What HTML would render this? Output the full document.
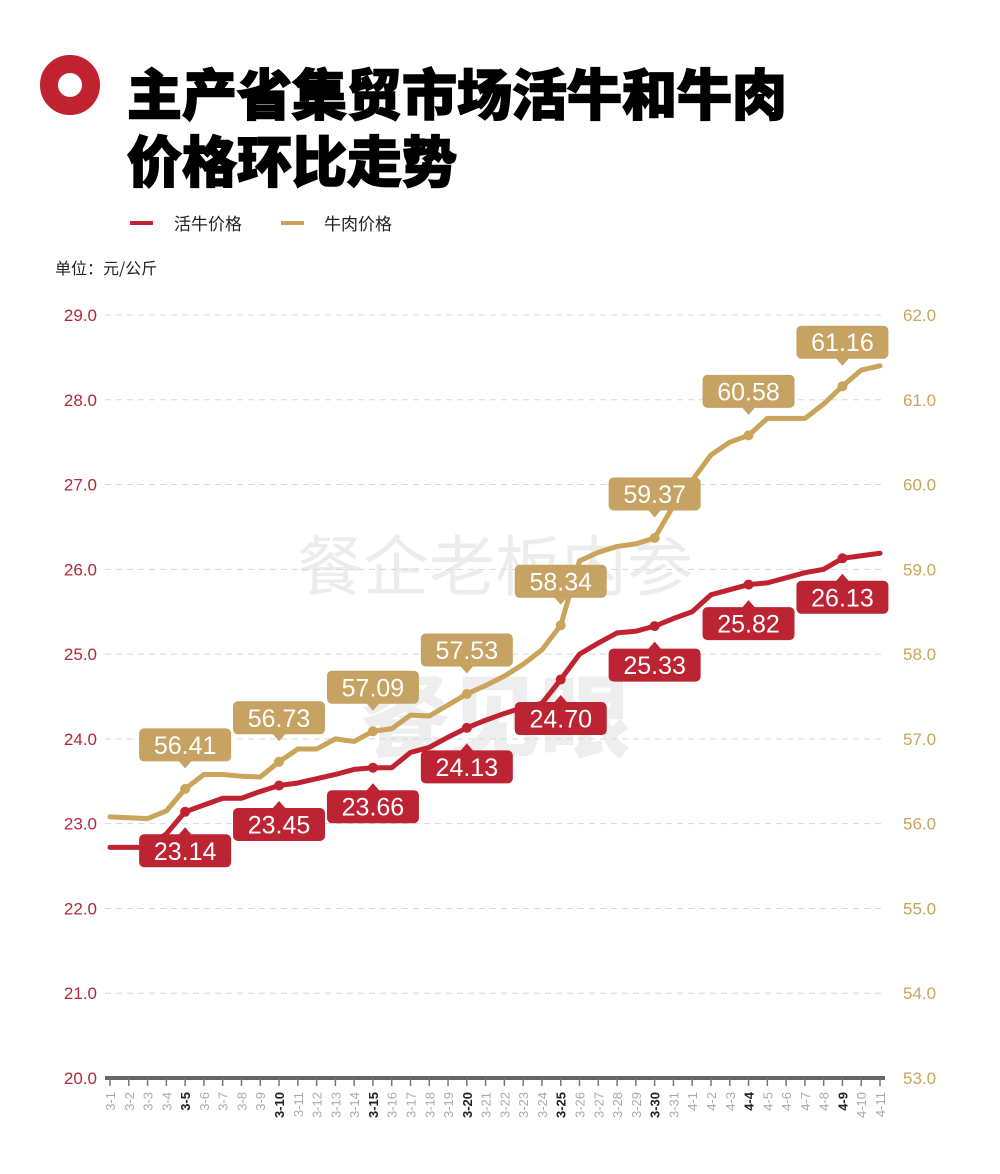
<!DOCTYPE html>
<html><head><meta charset="utf-8">
<style>
html,body{margin:0;padding:0;background:#fff;}
body{width:1000px;height:1174px;position:relative;overflow:hidden;font-family:"Liberation Sans","Noto Sans CJK SC",sans-serif;}
svg{position:absolute;left:0;top:0;}
</style></head>
<body>
<svg id="chart" width="1000" height="1174">
  <circle cx="70" cy="85" r="21" fill="none" stroke="#c0222f" stroke-width="18"/>
  <text x="127" y="115" font-size="55" font-weight="900" fill="#000" font-family="'Noto Sans CJK SC',sans-serif" stroke="#000" stroke-width="1.5">主产省集贸市场活牛和牛肉</text>
  <text x="127" y="182" font-size="55" font-weight="900" fill="#000" font-family="'Noto Sans CJK SC',sans-serif" stroke="#000" stroke-width="1.5">价格环比走势</text>
  <g>
    <rect x="130" y="221" width="23" height="4" fill="#c0222f"/>
    <text x="174" y="230" font-size="17" fill="#222" font-family="'Noto Sans CJK SC',sans-serif">活牛价格</text>
  </g>
  <g>
    <rect x="281" y="221" width="23" height="4" fill="#c9a45a"/>
    <text x="324" y="230" font-size="17" fill="#222" font-family="'Noto Sans CJK SC',sans-serif">牛肉价格</text>
  </g>
  <text x="55" y="274" font-size="16" fill="#222" font-family="'Noto Sans CJK SC',sans-serif">单位：元/公斤</text>
  <text x="495" y="590" font-size="66" fill="#ececec" text-anchor="middle" font-family="'Noto Sans CJK SC',sans-serif">餐企老板内参</text>
  <text x="495" y="750" font-size="90" font-weight="900" fill="#eeeeee" text-anchor="middle" font-family="'Noto Sans CJK SC',sans-serif">餐见眼</text>
  <g id="grid"></g><g id="axes"></g><g id="lines"></g><g id="labels"></g>
</svg>
<script>
const categories = [];
for (let d = 1; d <= 31; d++) categories.push('3-' + d);
for (let d = 1; d <= 11; d++) categories.push('4-' + d);
const cattleValues = [22.72,22.72,22.72,22.88,23.14,23.22,23.30,23.30,23.38,23.45,23.48,23.53,23.58,23.64,23.66,23.66,23.84,23.90,24.02,24.13,24.22,24.30,24.37,24.42,24.70,25.00,25.13,25.25,25.27,25.33,25.42,25.50,25.70,25.76,25.82,25.84,25.90,25.96,26.00,26.13,26.16,26.19];
const beefValues = [56.08,56.07,56.06,56.15,56.41,56.58,56.58,56.56,56.55,56.73,56.88,56.88,57.00,56.97,57.09,57.12,57.28,57.27,57.40,57.53,57.63,57.74,57.88,58.05,58.34,59.10,59.20,59.27,59.30,59.37,59.75,60.05,60.35,60.50,60.58,60.78,60.78,60.78,60.95,61.16,61.35,61.40];
const leftTicks = [20,21,22,23,24,25,26,27,28,29];
const rightTicks = [53,54,55,56,57,58,59,60,61,62];
const labeledIdx = [4,9,14,19,24,29,34,39];

const NS='http://www.w3.org/2000/svg';
const X0=110,X1=880,Y0=1078,Y1=315;
const x=i=>X0+(X1-X0)*i/(categories.length-1);
const yL=v=>Y0-(v-20)/9*(Y0-Y1);
const yR=v=>Y0-(v-53)/9*(Y0-Y1);
function mk(tag,attrs,parent,text){const e=document.createElementNS(NS,tag);for(const k in attrs)e.setAttribute(k,attrs[k]);if(text!==undefined)e.textContent=text;parent.appendChild(e);return e;}
const grid=document.getElementById('grid'),axes=document.getElementById('axes'),lines=document.getElementById('lines'),labels=document.getElementById('labels');

leftTicks.forEach((t,i)=>{
  const y=yL(t);
  if(i>0){const g=mk('line',{x1:105,x2:885,y1:y,y2:y,stroke:'#d8d8d8','stroke-dasharray':'6,5','stroke-width':1},grid);
  
  }
  const tl=mk('text',{x:97,y:y+6,'font-size':17,fill:'#b3283a','text-anchor':'end'},axes,t.toFixed(1));
  
  
});
rightTicks.forEach(t=>{
  const tr=mk('text',{x:903,y:yR(t)+6,'font-size':17,fill:'#c9a45a'},axes,t.toFixed(1));
  
  
});
const ax=mk('line',{x1:105,x2:885,y1:Y0,y2:Y0,stroke:'#666','stroke-width':4},axes);


categories.forEach((c,i)=>{
  mk('line',{x1:x(i),x2:x(i),y1:Y0,y2:Y0+8,stroke:'#777','stroke-width':1.5},axes);
  const bold=labeledIdx.includes(i);
  const tx=mk('text',{transform:`translate(${x(i)+5},${Y0+14}) rotate(-90)`,'font-size':13,'text-anchor':'end',fill:bold?'#222':'#aaa','font-weight':bold?'bold':'normal'},axes,c);
  
  
});

function series(vals,yf,color,name){
  const p=mk('polyline',{points:vals.map((v,i)=>x(i)+','+yf(v)).join(' '),fill:'none',stroke:color,'stroke-width':5,'stroke-linejoin':'round','stroke-linecap':'round'},lines);
  
  
  labeledIdx.forEach(i=>{mk('circle',{cx:x(i),cy:yf(vals[i]),r:5,fill:color},lines);});
}
series(beefValues,yR,'#c9a45a','beef-price-line');
series(cattleValues,yL,'#c0222f','live-cattle-price-line');

function label(i,v,yp,above,color,name){
  const cx=x(i),w=92,h=33;
  const cy=above?yp-44:yp+39;
  const g=mk('g',{},labels);
  
  
  mk('rect',{x:cx-w/2,y:cy-h/2,width:w,height:h,rx:5,fill:color},g);
  if(above) mk('polygon',{points:`${cx-7},${cy+h/2-1} ${cx+7},${cy+h/2-1} ${cx},${cy+h/2+7}`,fill:color},g);
  else mk('polygon',{points:`${cx-7},${cy-h/2+1} ${cx+7},${cy-h/2+1} ${cx},${cy-h/2-7}`,fill:color},g);
  mk('text',{x:cx,y:cy+9,'font-size':25,fill:'#fff','text-anchor':'middle'},g,v.toFixed(2));
}
labeledIdx.forEach(i=>{
  label(i,beefValues[i],yR(beefValues[i]),true,'#c6a263','beef-value-label');
  label(i,cattleValues[i],yL(cattleValues[i]),false,'#bd2433','cattle-value-label');
});
</script>
</body></html>
